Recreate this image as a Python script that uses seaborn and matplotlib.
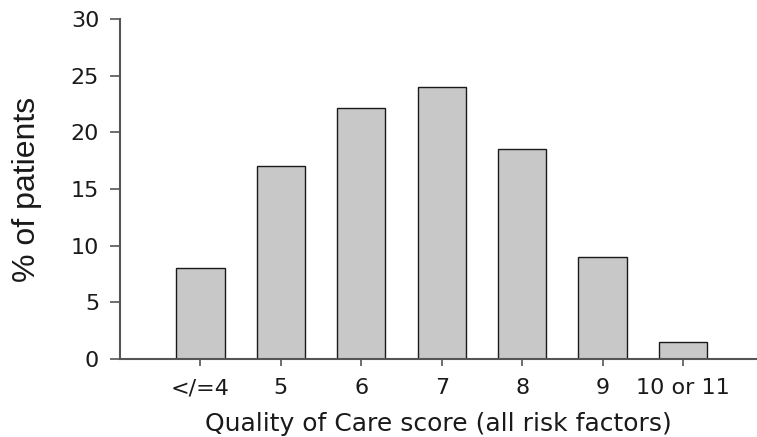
import matplotlib
matplotlib.use("Agg")
import matplotlib.pyplot as plt
import seaborn as sns
import pandas as pd

categories = ["</=4", "5", "6", "7", "8", "9", "10 or 11"]
percent_patients = [8.0, 17.0, 22.2, 24.0, 18.5, 9.0, 1.5]
y_ticks = [0, 5, 10, 15, 20, 25, 30]

sns.set_theme(style="ticks")
plt.rcParams['font.family'] = ['DejaVu Sans']

df = pd.DataFrame({"score": categories, "pct": percent_patients})

fig = plt.figure(figsize=(7.57, 4.37), dpi=100)
ax = fig.add_axes([0.1585, 0.179, 0.8415, 0.777])
sns.barplot(data=df, x="score", y="pct", color="#c8c8c8", saturation=1,
            width=0.6, edgecolor="#1a1a1a", linewidth=1.0, ax=ax)

ax.set_xlim(-1.0, 6.92)
ax.set_ylim(0, 30)
ax.set_yticks(y_ticks)
ax.set_yticklabels([str(v) for v in y_ticks])
for s in ["top", "right"]:
    ax.spines[s].set_visible(False)
for s in ["left", "bottom"]:
    ax.spines[s].set_color("#555555")
    ax.spines[s].set_linewidth(1.5)
ax.tick_params(axis="y", direction="out", length=7, width=1.2, color="#555555",
               labelsize=16, labelcolor="#1a1a1a", pad=8)
ax.tick_params(axis="x", direction="out", length=5, width=1.2, color="#555555",
               labelsize=16, labelcolor="#1a1a1a", pad=9)
ax.set_xlabel("Quality of Care score (all risk factors)", fontsize=18,
              color="#1a1a1a", labelpad=10)
ax.set_ylabel("% of patients", fontsize=23, color="#1a1a1a",
              family=["Liberation Sans", "DejaVu Sans"])
ax.yaxis.set_label_coords(-0.122, 0.5)

fig.savefig("out.png", dpi=100)
